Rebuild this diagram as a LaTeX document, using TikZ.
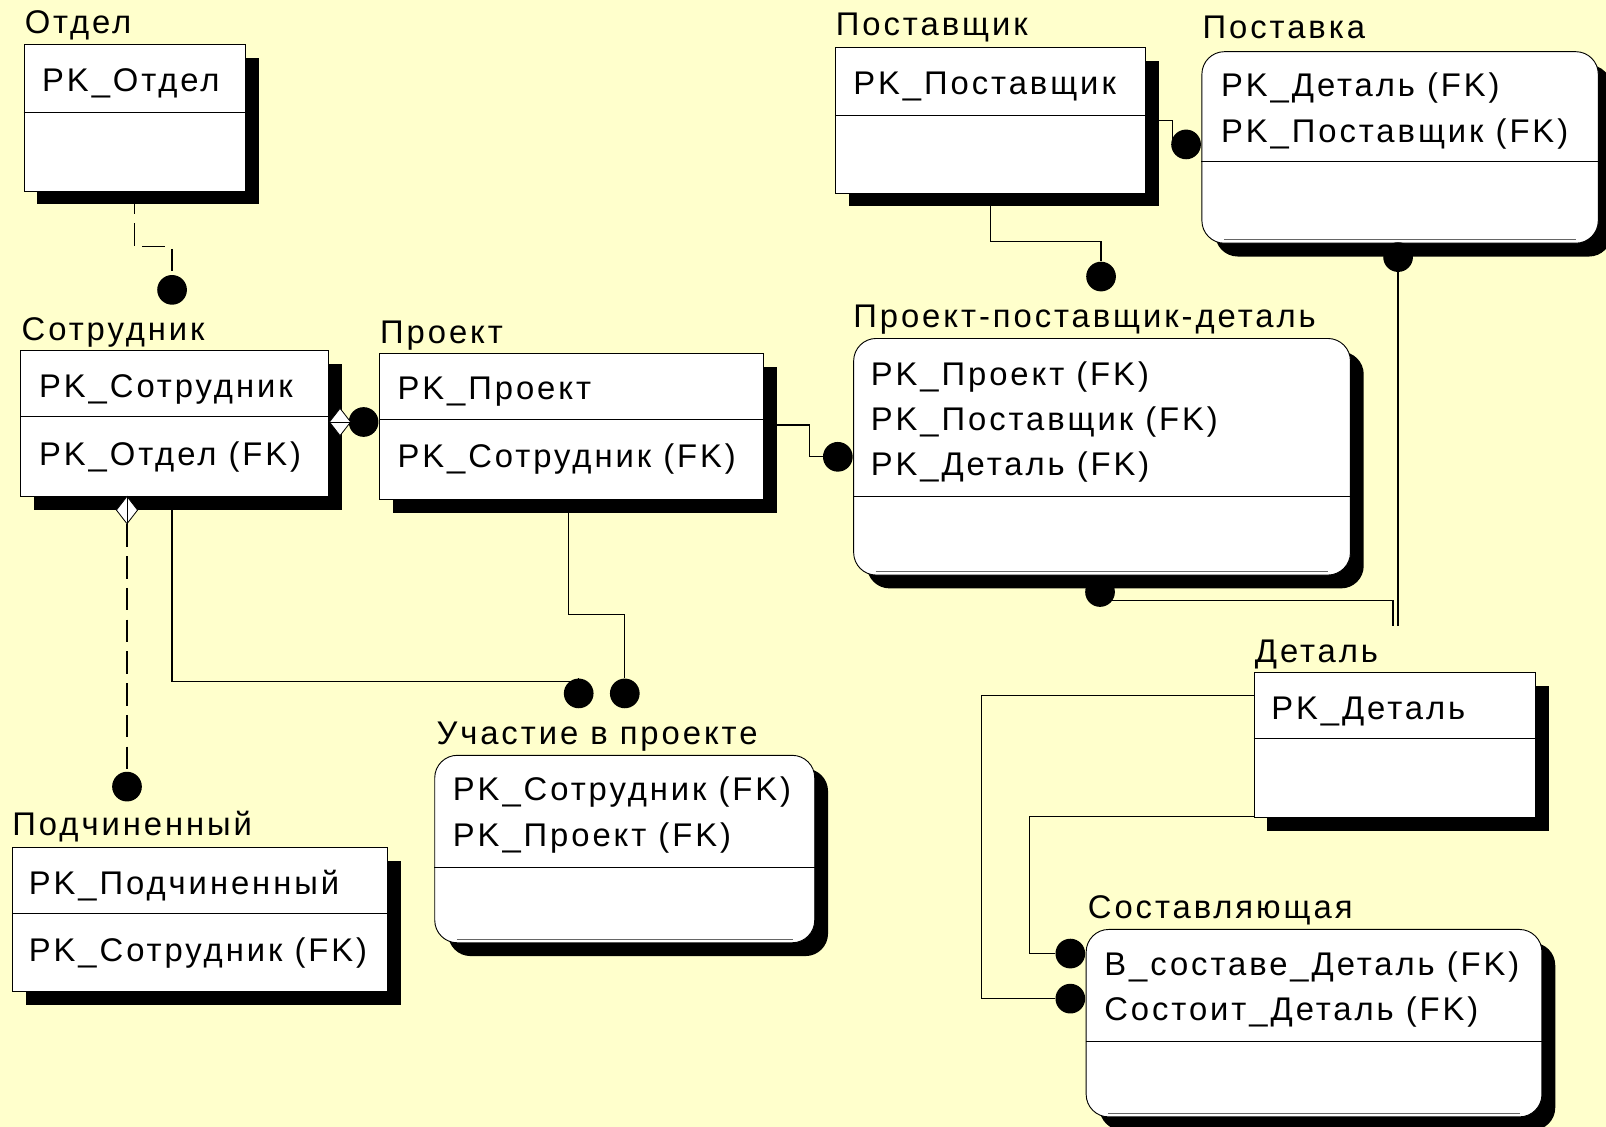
\documentclass[tikz,border=0pt]{standalone}
\usepackage{fontspec}
\newfontfamily\erfont{Liberation Sans}[LetterSpace=9]
\usetikzlibrary{shapes.geometric,shadows}
\pgfdeclarelayer{back}
\pgfdeclarelayer{lines}
\pgfsetlayers{back,lines,main}
\newcommand\erfs{\erfont\fontsize{32}{37}\selectfont}
\definecolor{paper}{RGB}{255,255,204}
\tikzset{
  ent/.style={draw=black, line width=0.9pt, fill=white, anchor=north west, inner sep=0pt,
    drop shadow={shadow xshift=13pt, shadow yshift=-13pt, opacity=1, fill=black}},
  entr/.style={ent, rounded corners=22pt},
  ttl/.style={anchor=base west, inner sep=0pt, font=\erfs},
  attr/.style={anchor=base west, inner sep=0pt, font=\erfs},
  divl/.style={line width=0.9pt},
  rel/.style={line width=1.2pt},
  idf/.style={rel, dash pattern=on 22pt off 9pt},
  dot/.style={circle, fill=black, inner sep=0pt, minimum size=29pt},
  dmd/.style={diamond, draw=black, fill=white, inner sep=0pt, line width=0.8pt,
    minimum width=21pt, minimum height=27pt},
}
\begin{document}
\begin{tikzpicture}[x=1pt, y=-1pt]
\begin{pgfonlayer}{back}
  \fill[paper] (0,0) rectangle (1568,1100);
\end{pgfonlayer}
\useasboundingbox (0,0) rectangle (1568,1100);

% ---------- entities ----------
% Отдел
\node[ttl] (t-otdel) at (24,33) {Отдел};
\node[ent, minimum width=216pt, minimum height=143pt] (otdel) at (23,43) {};
\draw[divl] ([yshift=-67pt]otdel.north west) -- ([yshift=-67pt]otdel.north east);
\node[attr] (a-otdel) at (41,89) {PK\_Отдел};

% Сотрудник
\node[ttl] (t-sotr) at (21,332) {Сотрудник};
\node[ent, minimum width=300pt, minimum height=142pt] (sotr) at (20,342) {};
\draw[divl] ([yshift=-65pt]sotr.north west) -- ([yshift=-65pt]sotr.north east);
\node[attr] (a-sotr1) at (38,388) {PK\_Сотрудник};
\node[attr] (a-sotr2) at (38,454) {PK\_Отдел (FK)};

% Проект
\node[ttl] (t-proekt) at (371,335) {Проект};
\node[ent, minimum width=375pt, minimum height=142pt] (proekt) at (370,345) {};
\draw[divl] ([yshift=-65pt]proekt.north west) -- ([yshift=-65pt]proekt.north east);
\node[attr] (a-proekt1) at (388,390) {PK\_Проект};
\node[attr] (a-proekt2) at (388,456) {PK\_Сотрудник (FK)};

% Подчиненный
\node[ttl] (t-podch) at (12,816) {Подчиненный};
\node[ent, minimum width=366pt, minimum height=141pt] (podch) at (12,827) {};
\draw[divl] ([yshift=-65pt]podch.north west) -- ([yshift=-65pt]podch.north east);
\node[attr] (a-podch1) at (28,873) {PK\_Подчиненный};
\node[attr] (a-podch2) at (28,939) {PK\_Сотрудник (FK)};

% Участие в проекте
\node[ttl] (t-uch) at (426,727) {Участие в проекте};
\node[entr, minimum width=371pt, minimum height=183pt] (uch) at (424,737) {};
\draw[divl] ([yshift=-110pt]uch.north west) -- ([yshift=-110pt]uch.north east);
\draw[line width=0.6pt, black!60] ([xshift=22pt,yshift=4pt]uch.south west) -- ([xshift=-22pt,yshift=4pt]uch.south east);
\node[attr] (a-uch1) at (442,782) {PK\_Сотрудник (FK)};
\node[attr] (a-uch2) at (442,826) {PK\_Проект (FK)};

% Поставщик
\node[ttl] (t-postavsch) at (816,35) {Поставщик};
\node[ent, minimum width=303pt, minimum height=142pt] (postavsch) at (815,46) {};
\draw[divl] ([yshift=-67pt]postavsch.north west) -- ([yshift=-67pt]postavsch.north east);
\node[attr] (a-postavsch) at (833,92) {PK\_Поставщик};

% Поставка
\node[ttl] (t-postavka) at (1174,38) {Поставка};
\node[entr, minimum width=387pt, minimum height=187pt] (postavka) at (1173,50) {};
\draw[divl] ([yshift=-108pt]postavka.north west) -- ([yshift=-108pt]postavka.north east);
\draw[line width=0.6pt, black!60] ([xshift=22pt,yshift=4pt]postavka.south west) -- ([xshift=-22pt,yshift=4pt]postavka.south east);
\node[attr] (a-postavka1) at (1192,94) {PK\_Деталь (FK)};
\node[attr] (a-postavka2) at (1192,139) {PK\_Поставщик (FK)};

% Проект-поставщик-деталь
\node[ttl] (t-ppd) at (833,320) {Проект-поставщик-деталь};
\node[entr, minimum width=485pt, minimum height=231pt] (ppd) at (833,330) {};
\draw[divl] ([yshift=-155pt]ppd.north west) -- ([yshift=-155pt]ppd.north east);
\draw[line width=0.6pt, black!60] ([xshift=22pt,yshift=4pt]ppd.south west) -- ([xshift=-22pt,yshift=4pt]ppd.south east);
\node[attr] (a-ppd1) at (850,376) {PK\_Проект (FK)};
\node[attr] (a-ppd2) at (850,420) {PK\_Поставщик (FK)};
\node[attr] (a-ppd3) at (850,464) {PK\_Деталь (FK)};

% Деталь
\node[ttl] (t-detal) at (1225,647) {Деталь};
\node[ent, minimum width=275pt, minimum height=142pt] (detal) at (1224,656) {};
\draw[divl] ([yshift=-65pt]detal.north west) -- ([yshift=-65pt]detal.north east);
\node[attr] (a-detal) at (1241,702) {PK\_Деталь};

% Составляющая
\node[ttl] (t-sostav) at (1062,897) {Составляющая};
\node[entr, minimum width=445pt, minimum height=183pt] (sostav) at (1060,907) {};
\draw[divl] ([yshift=-110pt]sostav.north west) -- ([yshift=-110pt]sostav.north east);
\draw[line width=0.6pt, black!60] ([xshift=22pt,yshift=4pt]sostav.south west) -- ([xshift=-22pt,yshift=4pt]sostav.south east);
\node[attr] (a-sostav1) at (1078,952) {В\_составе\_Деталь (FK)};
\node[attr] (a-sostav2) at (1078,996) {Состоит\_Деталь (FK)};

% ---------- relationship ends ----------
\node[dot] (dot1) at (168,283) {};
\node[dot] (dot2) at (355,412) {};
\node[dot] (dot3) at (818,446) {};
\node[dot] (dot4) at (124,768) {};
\node[dot] (dot5) at (565,677) {};
\node[dot] (dot6) at (610,677) {};
\node[dot] (dot7) at (1158,141) {};
\node[dot] (dot8) at (1075,270) {};
\node[dot] (dot9) at (1365,251) {};
\node[dot] (dot10) at (1074,578) {};
\node[dot] (dot11) at (1045,975) {};
\node[dot] (dot12) at (1045,931) {};
\node[dmd] (dm1) at (332,412) {};
\draw[line width=0.6pt] (dm1.west) -- (dm1.east);
\node[dmd] (dm2) at (124,498) {};
\draw[line width=0.6pt] (dm2.north) -- (dm2.south);

% ---------- connectors ----------
\coordinate (c1) at (131,241);
\coordinate (c3) at (790,415);
\coordinate (c5) at (168,665);
\coordinate (c6) at (555,600);
\coordinate (c7) at (1145,118);
\coordinate (c8) at (967,236);
\coordinate (e9) at (1365,611);
\coordinate (c10) at (1360,586);
\coordinate (e10) at (1360,611);
\coordinate (c11) at (958,679);
\coordinate (c12) at (1005,797);
\begin{pgfonlayer}{lines}
  \draw[idf] (otdel.south -| c1) -- (c1) -| (dot1);
  \draw[rel] (dm1) -- (dot2);
  \draw[rel] (proekt.east |- c3) -- (c3) |- (dot3);
  \draw[idf] (dm2) -- (dot4);
  \draw[rel] (sotr.south -| c5) -- (c5) -| (dot5);
  \draw[rel] (proekt.south -| c6) -- (c6) -| (dot6);
  \draw[rel] (postavsch.east |- c7) -- (c7) |- (dot7);
  \draw[rel] (postavsch.south -| c8) -- (c8) -| (dot8);
  \draw[rel] (dot9) -- (e9);
  \draw[rel] (dot10 |- c10) -- (c10) -- (e10);
  \draw[rel] (detal.west |- c11) -- (c11) |- (dot11);
  \draw[rel] (detal.west |- c12) -- (c12) |- (dot12);
\end{pgfonlayer}
\end{tikzpicture}
\end{document}
